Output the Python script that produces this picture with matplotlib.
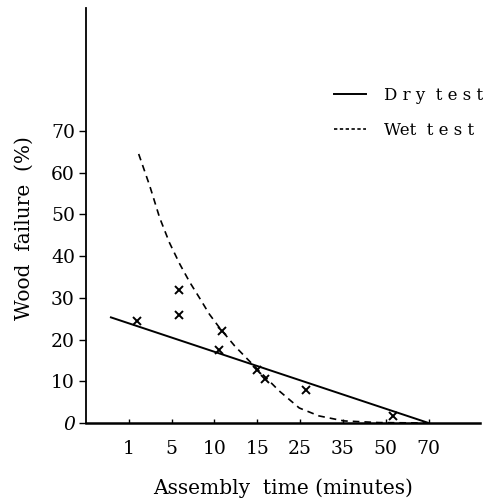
import matplotlib.pyplot as plt
from matplotlib.lines import Line2D

# categorical assembly-time ticks (equally spaced on the paper)
time_labels = ["1", "5", "10", "15", "25", "35", "50", "70"]
time_pos = list(range(len(time_labels)))

# fitted lines, x in tick-position units
dry_line_x = [-0.44, 7.0]
dry_line_y = [25.4, 0.0]

wet_curve_x = [0.23, 0.49, 0.72, 0.95, 1.19, 1.42, 1.65, 1.88, 2.12, 2.47, 2.81,
               3.16, 3.51, 3.98, 4.44, 5.02, 5.84, 6.95]
wet_curve_y = [64.5, 56.8, 49.2, 43.2, 38.1, 33.8, 30.0, 26.1, 22.8, 18.5, 14.9,
               11.3, 7.7, 3.6, 1.7, 0.5, 0.1, 0.0]

# measured points
dry_pts_x = [0.19, 2.10, 3.00, 4.14, 6.18]
dry_pts_y = [24.5, 17.5, 12.7, 7.9, 1.7]
wet_pts_x = [1.17, 1.17, 2.17, 3.17]
wet_pts_y = [32.0, 26.0, 22.0, 10.5]

y_ticks = [0, 10, 20, 30, 40, 50, 60, 70]

plt.rcParams['font.family'] = ['DejaVu Serif']

fig = plt.figure(figsize=(4.88, 5.03), dpi=100)
ax = fig.add_axes([86 / 488, 80 / 503, 394 / 488, 415 / 503])

ax.plot(dry_line_x, dry_line_y, color='black', lw=1.4, solid_capstyle='butt')
ax.plot(wet_curve_x, wet_curve_y, color='black', lw=1.2, ls=(0, (4, 3)))
ax.plot(dry_pts_x + wet_pts_x, dry_pts_y + wet_pts_y, ls='none', marker='x',
        ms=5.5, mew=1.4, color='black')

ax.set_xlim(-1.0, 8.2)
ax.set_ylim(0, 99.5)

ax.set_xticks(time_pos)
ax.set_xticklabels(time_labels)
ax.set_yticks(y_ticks)
ax.set_yticklabels([str(v) for v in y_ticks])
ax.get_yticklabels()[0].set_style('italic')

ax.tick_params(axis='x', direction='in', length=3, width=1, pad=12, labelsize=13.5)
ax.tick_params(axis='y', direction='out', length=5, width=1, pad=3, labelsize=13.5)

for s in ['top', 'right']:
    ax.spines[s].set_visible(False)
ax.spines['left'].set_linewidth(1.3)
ax.spines['bottom'].set_linewidth(1.8)

ax.set_ylabel("Wood  failure  (%)", fontsize=14.5)
ax.yaxis.set_label_coords(-0.132, 0.47)
ax.set_xlabel("Assembly  time (minutes)", fontsize=14.5, labelpad=15)

# legend drawn as a plain handle/label list
handles = [Line2D([], [], color='black', lw=1.4),
           Line2D([], [], color='black', lw=1.2, ls=(0, (2, 1.5)))]
ax.legend(handles, ["D r y  t e s t", "Wet  t e s t"], loc='upper left',
          bbox_to_anchor=(0.592, 0.845), frameon=False, fontsize=12,
          handlelength=1.9, handletextpad=1.1, labelspacing=1.05)

fig.savefig("out.png", dpi=100)
